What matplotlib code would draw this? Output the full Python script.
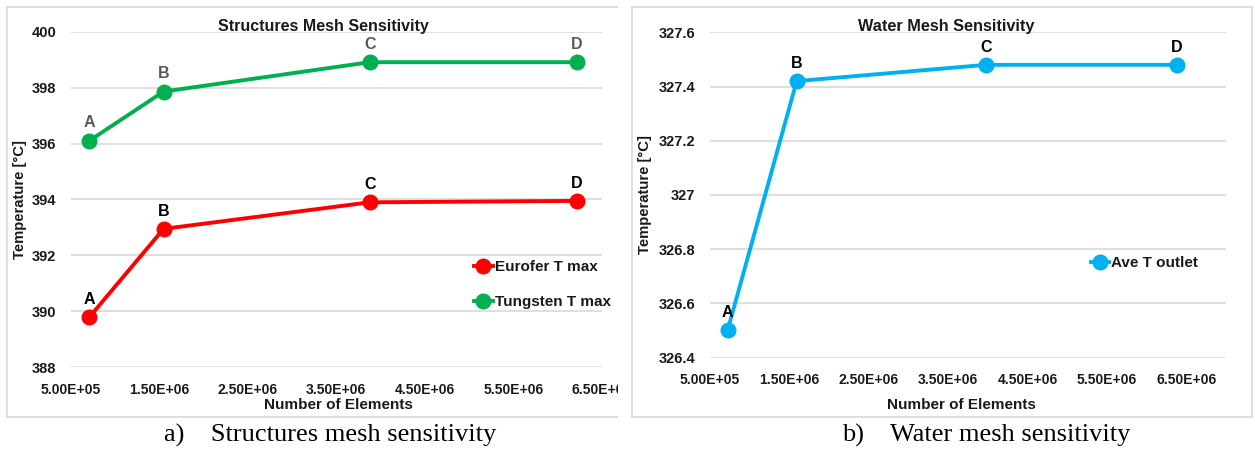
import matplotlib
matplotlib.use("Agg")
import matplotlib.pyplot as plt
from matplotlib.lines import Line2D
from matplotlib.patches import Rectangle

# Mesh sensitivity data
mesh_labels = ["A", "B", "C", "D"]
struct_elements = [7.1e5, 1.55e6, 3.88e6, 6.22e6]
eurofer_tmax = [389.79, 392.95, 393.90, 393.95]
tungsten_tmax = [396.10, 397.86, 398.91, 398.91]

water_elements = [7.25e5, 1.594e6, 3.98e6, 6.38e6]
water_t_outlet = [326.502, 327.42, 327.48, 327.48]

x_ticks = [5.0e5, 1.5e6, 2.5e6, 3.5e6, 4.5e6, 5.5e6, 6.5e6]
x_tick_labels = ["5.00E+05", "1.50E+06", "2.50E+06", "3.50E+06",
                 "4.50E+06", "5.50E+06", "6.50E+06"]
left_y_ticks = [388, 390, 392, 394, 396, 398, 400]
left_y_labels = ["388", "390", "392", "394", "396", "398", "400"]
right_y_ticks = [326.4, 326.6, 326.8, 327.0, 327.2, 327.4, 327.6]
right_y_labels = ["326.4", "326.6", "326.8", "327", "327.2", "327.4", "327.6"]

RED = "#FF0000"
GREEN = "#00B050"
BLUE = "#00B0F0"
GRID = "#D9D9D9"
TEXT = "#1A1A1A"

plt.rcParams["font.family"] = ["Liberation Sans", "DejaVu Sans"]
plt.rcParams["font.weight"] = "bold"

W, H = 1255, 453
fig = plt.figure(figsize=(W / 100, H / 100), dpi=100)


def fx(px):
    return px / W


def fy(py):
    return 1 - py / H


def px_axes(x0, x1, ytop, ybot):
    return fig.add_axes([fx(x0), fy(ybot), (x1 - x0) / W, (ybot - ytop) / H])


def style(ax, yt, yl):
    ax.set_xticks(x_ticks)
    ax.set_xticklabels(x_tick_labels)
    ax.set_yticks(yt)
    ax.set_yticklabels(yl)
    for s in ax.spines.values():
        s.set_visible(False)
    ax.tick_params(length=0, colors=TEXT)
    ax.tick_params(axis="x", labelsize=10, pad=11)
    ax.tick_params(axis="y", labelsize=10.5, pad=10.5)
    for t in ax.get_xticklabels() + ax.get_yticklabels():
        t.set_fontweight("bold")
    ax.grid(axis="y", color=GRID, lw=1.2)
    ax.set_axisbelow(True)
    ax.patch.set_alpha(0)


def annotate(ax, xs, ys, color):
    for lab, x, y in zip(mesh_labels, xs, ys):
        ax.annotate(lab, (x, y), xytext=(0, 12.8), textcoords="offset points",
                    ha="center", va="center", fontsize=11.5, fontweight="bold",
                    color=color)


def panel_frame(x0, x1, right_edge=True):
    kw = dict(transform=fig.transFigure, color=GRID, lw=1.2)
    fig.add_artist(Line2D([fx(x0), fx(x1)], [fy(7), fy(7)], **kw))
    fig.add_artist(Line2D([fx(x0), fx(x1)], [fy(417), fy(417)], **kw))
    fig.add_artist(Line2D([fx(x0), fx(x0)], [fy(7), fy(417)], **kw))
    if right_edge:
        fig.add_artist(Line2D([fx(x1), fx(x1)], [fy(7), fy(417)], **kw))


panel_frame(7, 617, right_edge=False)
panel_frame(632, 1252)

# Structures panel
ax1 = px_axes(70.7, 601.7, 31.7, 367.3)
ax1.set_xlim(5.0e5, 6.5e6)
ax1.set_ylim(388, 400)
style(ax1, left_y_ticks, left_y_labels)
ax1.plot(struct_elements, eurofer_tmax, color=RED, lw=2.8, marker="o", ms=10.5,
         label="Eurofer T max", clip_on=False)
ax1.plot(struct_elements, tungsten_tmax, color=GREEN, lw=2.8, marker="o", ms=10.5,
         label="Tungsten T max", clip_on=False)
annotate(ax1, struct_elements, eurofer_tmax, "black")
annotate(ax1, struct_elements, tungsten_tmax, "#595959")
ax1.set_xlabel("Number of Elements", fontsize=11, fontweight="bold", color=TEXT)
ax1.set_ylabel("Temperature [°C]", fontsize=10.7, fontweight="bold", color=TEXT)
ax1.xaxis.set_label_coords(0.505, -0.112)
ax1.xaxis.label.set_va("center")
ax1.yaxis.set_label_coords(-0.0955, 0.5)
ax1.yaxis.label.set_va("center")
leg1 = ax1.legend(loc="center left", bbox_to_anchor=(0.760, 0.246), frameon=False,
                  fontsize=11, handlelength=1.2, handletextpad=0.15, labelspacing=1.4,
                  borderaxespad=0, borderpad=0)
for t in leg1.get_texts():
    t.set_fontweight("bold")
    t.set_color(TEXT)
fig.text(fx(323), fy(26), "Structures Mesh Sensitivity", ha="center", va="center",
         fontsize=11.5, fontweight="bold", color=TEXT)

# Water panel
ax2 = px_axes(709.8, 1225.9, 32.3, 357.7)
ax2.set_xlim(5.0e5, 7.0e6)
ax2.set_ylim(326.4, 327.6)
style(ax2, right_y_ticks, right_y_labels)
ax2.plot(water_elements, water_t_outlet, color=BLUE, lw=2.8, marker="o", ms=10.5,
         label="Ave T outlet", clip_on=False)
annotate(ax2, water_elements, water_t_outlet, "black")
ax2.set_xlabel("Number of Elements", fontsize=11, fontweight="bold", color=TEXT)
ax2.set_ylabel("Temperature [°C]", fontsize=10.7, fontweight="bold", color=TEXT)
ax2.xaxis.set_label_coords(0.488, -0.145)
ax2.xaxis.label.set_va("center")
ax2.yaxis.set_label_coords(-0.1256, 0.5)
ax2.yaxis.label.set_va("center")
leg2 = ax2.legend(loc="center left", bbox_to_anchor=(0.738, 0.291), frameon=False,
                  fontsize=11, handlelength=1.2, handletextpad=0.15,
                  borderaxespad=0, borderpad=0)
for t in leg2.get_texts():
    t.set_fontweight("bold")
    t.set_color(TEXT)
fig.text(fx(946), fy(26), "Water Mesh Sensitivity", ha="center", va="center",
         fontsize=11.7, fontweight="bold", color=TEXT)

# The left chart's area ends before its last tick label finishes
fig.add_artist(Rectangle((fx(617.5), fy(400)), (631 - 617.5) / W, 30 / H,
                         transform=fig.transFigure, facecolor="white",
                         edgecolor="none", zorder=10))

# Sub-figure captions
cap_font = ["Liberation Serif", "DejaVu Serif"]
fig.text(fx(330), fy(435), "a)    Structures mesh sensitivity", ha="center", va="center",
         fontsize=19, family=cap_font, fontweight="normal")
fig.text(fx(986), fy(435), "b)    Water mesh sensitivity", ha="center", va="center",
         fontsize=19, family=cap_font, fontweight="normal")

fig.savefig("out.png", dpi=100)
